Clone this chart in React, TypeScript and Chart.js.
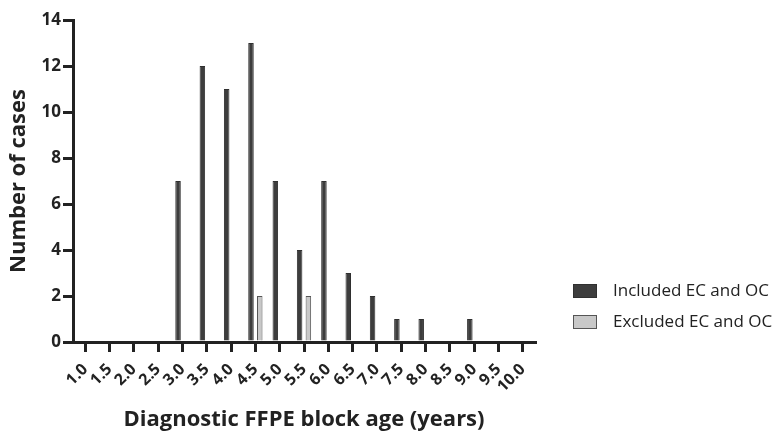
import React, { useEffect, useRef } from "react";
import { Chart, registerables } from "chart.js";

Chart.register(...registerables);

const categories = ["1.0","1.5","2.0","2.5","3.0","3.5","4.0","4.5","5.0","5.5","6.0","6.5","7.0","7.5","8.0","8.5","9.0","9.5","10.0"];
const includedCounts = [0,0,0,0,7,12,11,13,7,4,7,3,2,1,1,0,1,0,0];
const excludedCounts = [0,0,0,0,0,0,0,2,0,2,0,0,0,0,0,0,0,0,0];
const yTicks = [0,2,4,6,8,10,12,14];
const seriesLabels = ["Included EC and OC", "Excluded EC and OC"];

const FONT = "'Open Sans', 'DejaVu Sans', sans-serif";
const AXIS = "#222222";

const legendPlugin = {
  id: "sideLegend",
  afterDraw(chart: any) {
    const ctx = chart.ctx;
    const x0 = 573;
    const rows = [291, 322];
    ctx.save();
    chart.data.datasets.forEach((ds: any, i: number) => {
      const y = rows[i];
      ctx.fillStyle = ds.backgroundColor;
      ctx.fillRect(x0, y - 7, 24, 14);
      ctx.lineWidth = 1;
      ctx.strokeStyle = ds.borderColor;
      ctx.strokeRect(x0 + 0.5, y - 6.5, 23, 13);
      ctx.fillStyle = AXIS;
      ctx.font = `17px ${FONT}`;
      ctx.textBaseline = "middle";
      ctx.textAlign = "left";
      ctx.fillText(ds.label, 613, y);
    });
    ctx.restore();
  },
};

export default function App() {
  const ref = useRef<HTMLCanvasElement | null>(null);
  useEffect(() => {
    if (!ref.current) return;
    const chart = new Chart(ref.current, {
      type: "bar",
      data: {
        labels: categories,
        datasets: [
          {
            label: seriesLabels[0],
            data: includedCounts,
            backgroundColor: "#3d3d3d",
            borderColor: "#303030",
            borderWidth: 1,
            categoryPercentage: 0.72,
            barPercentage: 0.63,
          },
          {
            label: seriesLabels[1],
            data: excludedCounts,
            backgroundColor: "#c8c8c8",
            borderColor: "#555555",
            borderWidth: 1,
            categoryPercentage: 0.72,
            barPercentage: 0.63,
          },
        ],
      },
      options: {
        animation: false,
        responsive: true,
        maintainAspectRatio: false,
        layout: { padding: { top: 20, right: 242, left: 0, bottom: 0 } },
        plugins: {
          legend: { display: false },
          tooltip: { enabled: false },
        },
        scales: {
          x: {
            type: "category",
            offset: true,
            border: { display: true, width: 3, color: AXIS },
            grid: {
              offset: false,
              drawOnChartArea: false,
              drawTicks: true,
              tickLength: 10,
              lineWidth: 3,
              color: AXIS,
            },
            ticks: {
              minRotation: 45,
              maxRotation: 45,
              autoSkip: false,
              padding: 8,
              color: AXIS,
              font: { family: FONT, size: 16, weight: "bold" },
            },
            title: {
              display: true,
              text: "Diagnostic FFPE block age (years)",
              color: AXIS,
              font: { family: FONT, size: 22, weight: "bold" },
              padding: { top: 0, bottom: 0 },
            },
            afterFit: (scale: any) => {
              scale.height = 91;
            },
          },
          y: {
            min: 0,
            max: 14,
            border: { display: true, width: 3, color: AXIS },
            grid: {
              drawOnChartArea: false,
              drawTicks: true,
              tickLength: 10,
              lineWidth: 3,
              color: AXIS,
            },
            afterBuildTicks: (scale: any) => {
              scale.ticks = yTicks.map((v) => ({ value: v }));
            },
            ticks: {
              padding: 2,
              color: AXIS,
              font: { family: FONT, size: 17, weight: "bold" },
            },
            title: {
              display: true,
              text: "Number of cases",
              color: AXIS,
              font: { family: FONT, size: 22, weight: "bold" },
              padding: { top: 6, bottom: 0 },
            },
            afterFit: (scale: any) => {
              scale.width = 73;
            },
          },
        },
      },
      plugins: [legendPlugin],
    });
    return () => chart.destroy();
  }, []);
  return (
    <div style={{ position: "fixed", left: 0, top: 0, width: 777, height: 433, background: "#fff" }}>
      <canvas ref={ref} />
    </div>
  );
}
